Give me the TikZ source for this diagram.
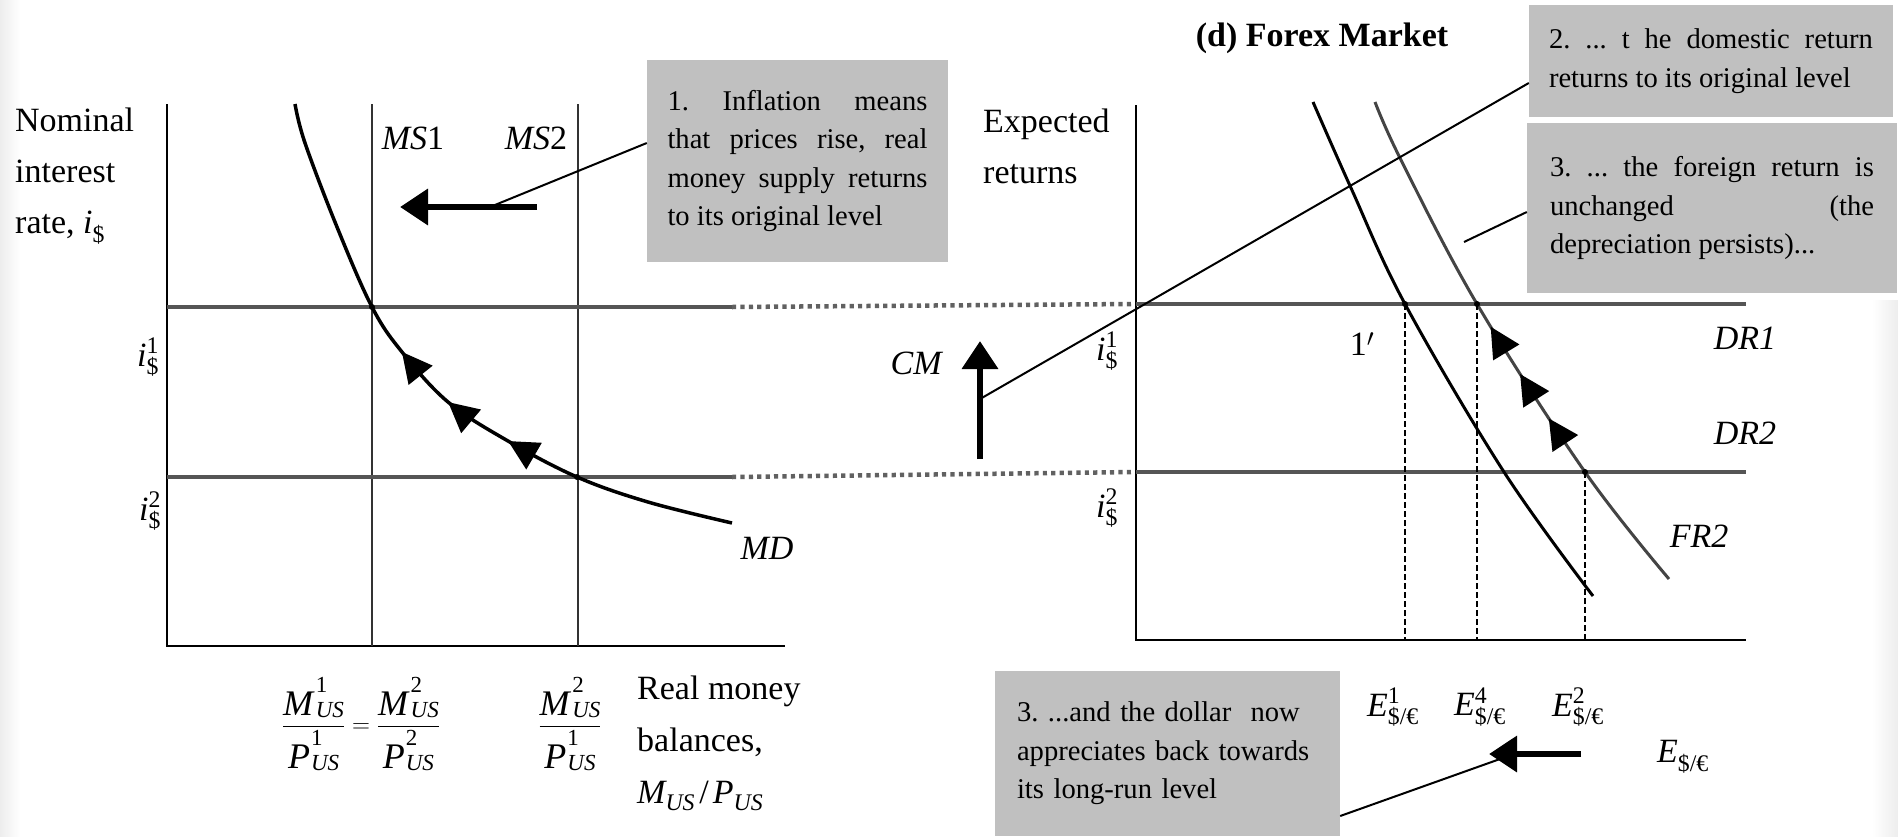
\documentclass[tikz,border=0pt]{standalone}
\usepackage{amsmath}
\usepackage{fontspec}
\setmainfont{Liberation Serif}
\usepackage{tikz}
\usetikzlibrary{arrows.meta, decorations.markings, calc}
\definecolor{notegrey}{HTML}{C0C0C0}
\definecolor{rategrey}{HTML}{555555}
\definecolor{frgrey}{HTML}{444444}
\newcommand{\labsize}{\fontsize{34}{51}\selectfont}
\newcommand{\notesize}{\fontsize{28.6}{38.5}\selectfont\frenchspacing}
\newcommand{\irate}[1]{$\textit{i}^{\text{#1}}_{\text{\$}}$}
\newcommand{\erate}[1]{$\textit{E}^{\text{#1}}_{\text{\$/€}}$}
% superscript set above the capital, subscript kept near the baseline
\newcommand{\usvar}[2]{\mbox{\textit{#1}\kern1pt\rlap{\raisebox{0.64em}{\fontsize{23}{23}\selectfont #2}}%
  \raisebox{-0.06em}{\fontsize{23}{23}\selectfont\itshape US}}}
\newcommand{\mpfrac}[2]{\dfrac{\usvar{M}{#1}}{\usvar{P}{#2}}}
\tikzset{
  axisline/.style={draw=black, line width=2pt},
  msline/.style={draw=black!80, line width=2.5pt},
  rateline/.style={draw=rategrey, line width=4pt},
  bridge/.style={draw=black!62, line width=4.5pt, dash pattern=on 4.2pt off 4.2pt},
  mdcurve/.style={draw=black, line width=3.5pt, line join=round},
  frcurve/.style={line width=3pt, line join=round},
  guide/.style={draw=black, line width=1.3pt, dash pattern=on 6pt off 3pt},
  leader/.style={draw=black, line width=2pt},
  bigarrow/.style={draw=black, line width=6.5pt,
    -{Triangle[length=28pt, width=35pt]}},
  lab/.style={font=\labsize, inner sep=0pt},
  note/.style={fill=notegrey, font=\notesize, inner sep=0pt},
  crossdot/.style={fill=black, circle, inner sep=0pt, minimum size=6pt},
  mdarrows/.style={postaction={decorate}, decoration={markings,
    mark=at position 0.417 with {\arrowreversed{Triangle[length=30pt, width=30pt, color=black]}},
    mark=at position 0.522 with {\arrowreversed{Triangle[length=30pt, width=30pt, color=black]}},
    mark=at position 0.632 with {\arrowreversed{Triangle[length=30pt, width=30pt, color=black]}}}},
  frarrows/.style={postaction={decorate}, decoration={markings,
    mark=at position 0.450 with {\arrowreversed{Triangle[length=30pt, width=30pt, color=black]}},
    mark=at position 0.549 with {\arrowreversed{Triangle[length=30pt, width=30pt, color=black]}},
    mark=at position 0.643 with {\arrowreversed{Triangle[length=30pt, width=30pt, color=black]}}}},
}

\begin{document}
\begin{tikzpicture}[x=1pt, y=-1pt]
\useasboundingbox (0,0) rectangle (1898,836);
\fill[white] (0,0) rectangle (1898,836);
\shade[left color=black!7, right color=white] (0,0) rectangle (20,836);
\shade[left color=white, right color=black!7] (1872,300) rectangle (1898,836);

% ---- money market (left) ----
\coordinate (mTop) at (167,104);
\coordinate (mO)   at (167,646);
\coordinate (mEnd) at (785,646);
\coordinate (ms1T) at (372,104);
\coordinate (ms1B) at (372,646);
\coordinate (ms2T) at (578,104);
\coordinate (ms2B) at (578,646);
\coordinate (i1L) at (167,307);
\coordinate (i1R) at (732,307);
\coordinate (i2L) at (167,477);
\coordinate (i2R) at (732,477);

% ---- forex market (right) ----
\coordinate (fTop) at (1136,105);
\coordinate (fO)   at (1136,640);
\coordinate (fEnd) at (1746,640);
\coordinate (dr1L) at (1136,304);
\coordinate (dr1R) at (1746,304);
\coordinate (dr2L) at (1136,472);
\coordinate (dr2R) at (1746,472);

% dotted bridges between the two panels
\draw[bridge] (i1R) -- (dr1L);
\draw[bridge] (i2R) -- (dr2L);

\draw[axisline] (mTop) -- (mO) -- (mEnd);
\draw[msline] (ms1T) -- (ms1B);
\draw[msline] (ms2T) -- (ms2B);
\draw[rateline] (i1L) -- (i1R);
\draw[rateline] (i2L) -- (i2R);

\draw[axisline, line width=1.6pt] (fTop) -- (fO) -- (fEnd);
\draw[rateline] (dr1L) -- (dr1R);
\draw[rateline] (dr2L) -- (dr2R);

% money demand
\draw[mdcurve, mdarrows] plot[smooth, tension=0.6] coordinates {
  (295,104) (305,143) (337,227) (372,307) (402,352) (448,402)
  (508,441) (577,477) (648,502) (732,523)};

% foreign returns
\draw[frcurve, draw=black] plot[smooth, tension=0.6] coordinates {
  (1313,102) (1351,188) (1405,304) (1504,472) (1593,596)};
\draw[frcurve, draw=frgrey, frarrows] plot[smooth, tension=0.6] coordinates {
  (1375,102) (1401,160) (1477,304) (1585,472) (1669,579)};

% dashed guides down to the axis
\coordinate (e1T) at (1405,304);
\coordinate (e4T) at (1477,304);
\coordinate (e2T) at (1585,472);
\foreach \g in {e1T, e4T, e2T} {
  \draw[guide] (\g) -- (\g |- fO);
}

% crossing dots
\foreach \p in {(372,307), (577,477), (1405,304), (1477,304), (1585,472)} {
  \node[crossdot] at \p {};
}

% ---- labels ----
\node[lab, anchor=north west, align=left] (ylabL) at (15,108)
  {Nominal\\interest\\rate, \textit{i}$_{\text{\$}}$};
\node[lab] (ms1lab) at (413,138) {\textit{MS}1};
\node[lab] (ms2lab) at (536,138) {\textit{MS}2};
\node[lab] (i1lab) at (148,357) {\irate{1}};
\node[lab] (i2lab) at (150,511) {\irate{2}};
\node[lab] (mdlab) at (767,548) {\textit{MD}};
\node[lab, font=\fontsize{36}{40}\selectfont] (fracA) at (361,724)
  {$\mpfrac{1}{1}=\mpfrac{2}{2}$};
\node[lab, font=\fontsize{36}{40}\selectfont] (fracB) at (570,724)
  {$\mpfrac{2}{1}$};
\node[lab, anchor=north west, align=left, font=\fontsize{34}{52}\selectfont]
  (xlabL) at (637,676)
  {Real money\\balances,\\$\textit{M}_{\textit{US}}\,\text{/}\,\textit{P}_{\textit{US}}$};

\node[lab, font=\fontsize{34}{51}\selectfont\bfseries] (title) at (1322,38)
  {(d) Forex Market};
\node[lab, anchor=north west, align=left] (ylabR) at (983,109)
  {Expected\\returns};
\node[lab] (i1labR) at (1107,351) {\irate{1}};
\node[lab] (i2labR) at (1107,508) {\irate{2}};
\node[lab] (cmlab) at (917,363) {\textit{CM}};
\node[lab] (onelab) at (1362,344) {1$'$};
\node[lab] (dr1lab) at (1745,338) {\textit{DR1}};
\node[lab] (dr2lab) at (1745,433) {\textit{DR2}};
\node[lab] (fr2lab) at (1699,536) {\textit{FR2}};
\node[lab] (e1lab) at (1393,707) {\erate{1}};
\node[lab] (e4lab) at (1480,707) {\erate{4}};
\node[lab] (e2lab) at (1578,707) {\erate{2}};
\node[lab] (elab) at (1683,757) {$\textit{E}_{\text{\$/€}}$};

% ---- grey notes ----
\node[note, minimum width=301pt, minimum height=202pt, text width=260pt,
      align=justify] (box1) at (797.5,161)
  {1. Inflation means\linebreak that prices rise, real\linebreak
   money supply returns\linebreak to its original level};
\node[note, minimum width=364pt, minimum height=112pt, text width=324pt,
      align=justify] (box2) at (1711,61)
  {2. ... t he domestic return\linebreak returns to its original level};
\node[note, minimum width=370pt, minimum height=170pt, text width=324pt,
      align=justify] (box3) at (1712,208)
  {3. ... the foreign return is\linebreak unchanged (the\linebreak
   depreciation persists)...};
\node[note, minimum width=345pt, minimum height=165pt, text width=301pt,
      align=left] (box4) at (1167.5,753.5)
  {3. ...and the dollar\ \ now\\appreciates back towards\\its long-run level};

% ---- shift arrows and leaders ----
\coordinate (msA) at (537,207);
\coordinate (msB) at (400,207);
\coordinate (lead1) at (490,207);
\draw[bigarrow] (msA) -- (msB);
\draw[leader] (lead1) -- ([yshift=18pt]box1.west);

\coordinate (cmA) at (980,459);
\coordinate (cmB) at (980,341);
\coordinate (lead2) at (980,399);
\draw[bigarrow] (cmA) -- (cmB);
\draw[leader] (lead2) -- ([yshift=-22pt]box2.west);

\coordinate (lead3) at (1464,242);
\draw[leader] (lead3) -- ([yshift=-4pt]box3.west);

\coordinate (exA) at (1581,754);
\coordinate (exB) at (1489,754);
\coordinate (lead4) at (1500,759);
\draw[bigarrow] (exA) -- (exB);
\draw[leader] ([yshift=-62.5pt]box4.east) -- (lead4);

\end{tikzpicture}
\end{document}
